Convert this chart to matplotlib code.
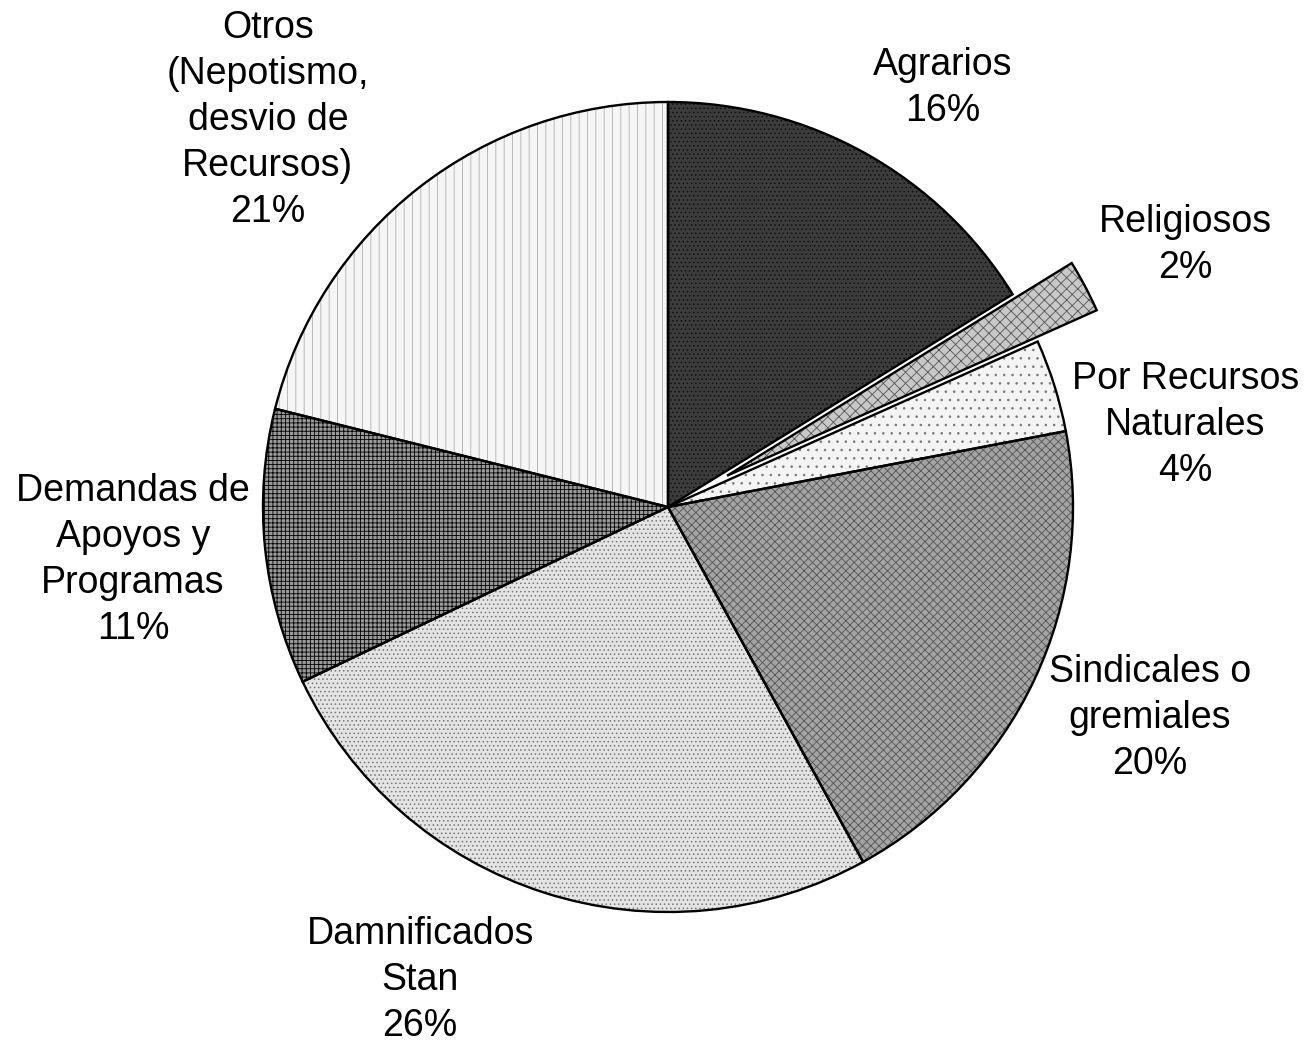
import numpy as np
import matplotlib
matplotlib.use('Agg')
import matplotlib.pyplot as plt

plt.rcParams['font.family'] = ['Liberation Sans', 'DejaVu Sans']
plt.rcParams['hatch.linewidth'] = 0.6

categories = ['Agrarios', 'Religiosos', 'Por Recursos\nNaturales', 'Sindicales o\ngremiales',
              'Damnificados\nStan', 'Demandas de\nApoyos y\nProgramas',
              'Otros\n(Nepotismo,\ndesvio de\nRecursos)']
values = [16.2, 2.1, 3.7, 20.0, 25.9, 11.0, 21.1]
pct_labels = ['16%', '2%', '4%', '20%', '26%', '11%', '21%']
explode = [0, 0.165, 0, 0, 0, 0, 0]

# fill tone, hatch, hatch colour for each slice
faces = ['#3c3c3c', '#c8c8c8', '#f4f4f4', '#a4a4a4', '#e4e4e4', '#9a9a9a', '#f6f6f6']
hatches = ['....', 'xxx', '..', 'xxxx', '....', '++++', '||']
hatch_cols = ['#111111', '#555555', '#777777', '#555555', '#777777', '#000000', '#b0b0b0']

# label centres in data units (pie radius = 1)
label_pos = [(0.679, 1.035), (1.277, 0.647), (1.277, 0.202), (1.190, -0.521),
             (-0.612, -1.168), (-1.321, -0.131), (-0.988, 0.956)]

fig = plt.figure(figsize=(13.1, 10.49), dpi=100)
ax = fig.add_axes([0, 0, 1, 1])

# fill + hatch layer
wedges, _ = ax.pie(values, explode=explode, startangle=90, counterclock=False,
                   colors=faces, wedgeprops=dict(linewidth=0))
for w, h, hc in zip(wedges, hatches, hatch_cols):
    w.set_hatch(h)
    w.set_edgecolor(hc)

# outline layer
ax.pie(values, explode=explode, startangle=90, counterclock=False,
       wedgeprops=dict(facecolor='none', edgecolor='black', linewidth=1.7))

for name, pct, (x, y) in zip(categories, pct_labels, label_pos):
    ax.text(x, y, f'{name}\n{pct}', ha='center', va='center', fontsize=27,
            linespacing=1.36, color='black')

ax.set_xlim(-668 / 405, (1310 - 668) / 405)
ax.set_ylim(-(1049 - 507) / 405, 507 / 405)
ax.set_aspect('equal', adjustable='box')
ax.axis('off')

fig.savefig('out.png', dpi=100)
